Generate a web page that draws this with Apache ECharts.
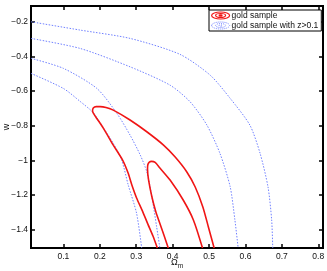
<!DOCTYPE html>
<html><head><meta charset="utf-8">
<script src="https://cdn.jsdelivr.net/npm/echarts@6/dist/echarts.min.js"></script>
<style>html,body{margin:0;padding:0;background:#fff}#c{width:327px;height:271px}</style>
</head><body><div id="c"></div>
<script>
// Axis ranges (Omega_m on x, w on y)
const xRange = [0.011, 0.813];
const yRange = [-1.506, -0.109];

// Red contours: "gold sample"
const redOuter = [[0.358,-1.506],[0.346,-1.437],[0.332,-1.368],[0.316,-1.287],[0.301,-1.217],[0.288,-1.142],[0.278,-1.075],[0.263,-1.0],[0.237,-0.912],[0.210,-0.815],[0.186,-0.740],[0.180,-0.715],[0.182,-0.698],[0.190,-0.690],[0.201,-0.690],[0.217,-0.695],[0.237,-0.710],[0.283,-0.767],[0.329,-0.835],[0.375,-0.912],[0.407,-0.981],[0.439,-1.067],[0.462,-1.154],[0.483,-1.269],[0.498,-1.383],[0.514,-1.506]];
const redInner = [[0.388,-1.506],[0.376,-1.431],[0.365,-1.364],[0.354,-1.298],[0.343,-1.210],[0.334,-1.114],[0.331,-1.050],[0.332,-1.024],[0.336,-1.010],[0.342,-1.006],[0.352,-1.012],[0.365,-1.044],[0.393,-1.114],[0.429,-1.229],[0.457,-1.344],[0.482,-1.506]];

// Blue dotted contours: "gold sample with z>0.1"
const blueA = [[0.011,-0.200],[0.146,-0.248],[0.283,-0.296],[0.420,-0.388],[0.503,-0.508],[0.558,-0.642],[0.612,-0.796],[0.640,-0.958],[0.662,-1.154],[0.672,-1.344],[0.675,-1.506]];
const blueB = [[0.011,-0.296],[0.146,-0.354],[0.283,-0.460],[0.393,-0.566],[0.448,-0.662],[0.494,-0.796],[0.530,-0.960],[0.558,-1.152],[0.571,-1.344],[0.580,-1.506]];
const blueC = [[0.011,-0.411],[0.100,-0.469],[0.192,-0.585],[0.247,-0.729],[0.283,-0.854],[0.311,-0.969],[0.329,-1.066],[0.343,-1.210],[0.356,-1.383],[0.365,-1.506]];
const blueD = [[0.011,-0.498],[0.100,-0.585],[0.146,-0.660],[0.182,-0.725],[0.210,-0.813],[0.237,-0.902],[0.260,-0.998],[0.278,-1.142],[0.301,-1.306],[0.315,-1.506]];

const legendNames = ['gold sample', 'gold sample with z>0.1'];

const FONT = 'Liberation Sans, Arial, Helvetica, sans-serif';
const RED = '#f01515';
const BLUE = '#7080ff';
const ringPath = 'path://M0,3.5 A9,3.5 0 1,1 18,3.5 A9,3.5 0 1,1 0,3.5 Z M4,3.5 A5,2 0 1,1 14,3.5 A5,2 0 1,1 4,3.5 Z M7.5,3.5 A1.5,0.7 0 1,1 10.5,3.5 A1.5,0.7 0 1,1 7.5,3.5 Z';

function redSeries(d){return {name:legendNames[0],type:'line',data:d,showSymbol:false,smooth:0.25,lineStyle:{color:RED,width:1.6},itemStyle:{color:RED},silent:true,animation:false,z:3};}
function blueSeries(d){return {name:legendNames[1],type:'line',data:d,showSymbol:false,smooth:0.25,lineStyle:{color:BLUE,width:1,type:[1.5,1.5]},itemStyle:{color:BLUE},silent:true,animation:false,z:2};}

const minus = v => String(+v.toFixed(2)).replace('-', '\u2212');
const tickStyle = {show:true,inside:true,length:4,lineStyle:{color:'#000',width:1.5}};

const chart = echarts.init(document.getElementById('c'), null, {renderer:'canvas'});
chart.setOption({
  animation:false,
  backgroundColor:'#fff',
  grid:{left:31,right:4,top:6,bottom:23,show:true,borderColor:'#000',borderWidth:2,backgroundColor:'#fff',containLabel:false,outerBoundsMode:'none'},
  legend:{
    left:209, top:10, orient:'vertical', padding:[1,3,1,2], itemGap:1,
    itemWidth:18, itemHeight:8, backgroundColor:'#fff', borderColor:'#000', borderWidth:1, borderRadius:0,
    textStyle:{fontFamily:FONT,fontSize:8.5,color:'#111',padding:[0,0,0,-3]},
    selectedMode:false,
    data:[
      {name:legendNames[0],icon:ringPath,itemStyle:{color:'rgba(0,0,0,0)',borderColor:RED,borderWidth:1.2}},
      {name:legendNames[1],icon:ringPath,itemStyle:{color:'rgba(0,0,0,0)',borderColor:BLUE,borderWidth:1,borderType:[1,1]}}
    ]
  },
  xAxis:[
    {type:'value',min:xRange[0],max:xRange[1],splitNumber:8,position:'bottom',
     axisLine:{show:false},axisTick:tickStyle,splitLine:{show:false},
     axisLabel:{showMinLabel:false,showMaxLabel:false,fontFamily:FONT,fontSize:8.5,color:'#111',margin:4,formatter:minus},
     name:'{a|\u03A9}{b|m}',nameLocation:'middle',nameGap:8.5,nameMoveOverlap:false,
     nameTextStyle:{rich:{a:{fontFamily:FONT,fontSize:9,color:'#111'},b:{fontFamily:FONT,fontSize:6.5,color:'#111',padding:[6,0,0,0]}}}},
    {type:'value',min:xRange[0],max:xRange[1],splitNumber:8,position:'top',
     axisLine:{show:false},axisTick:tickStyle,splitLine:{show:false},axisLabel:{show:false}}
  ],
  yAxis:[
    {type:'value',min:yRange[0],max:yRange[1],splitNumber:7,position:'left',
     axisLine:{show:false},axisTick:tickStyle,splitLine:{show:false},
     axisLabel:{showMinLabel:false,showMaxLabel:false,fontFamily:FONT,fontSize:8.5,color:'#111',margin:3,formatter:minus},
     name:'w',nameLocation:'middle',nameGap:20,nameRotate:90,nameMoveOverlap:false,
     nameTextStyle:{fontFamily:FONT,fontSize:9,color:'#111'}},
    {type:'value',min:yRange[0],max:yRange[1],splitNumber:7,position:'right',
     axisLine:{show:false},axisTick:tickStyle,splitLine:{show:false},axisLabel:{show:false}}
  ],
  series:[
    blueSeries(blueA), blueSeries(blueB), blueSeries(blueC), blueSeries(blueD),
    redSeries(redOuter), redSeries(redInner)
  ]
});
</script></body></html>
